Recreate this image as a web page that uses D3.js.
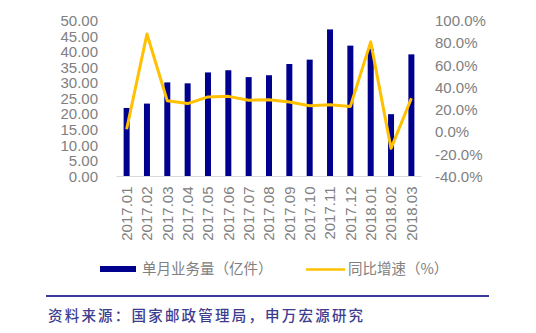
<!DOCTYPE html>
<html>
<head>
<meta charset="utf-8">
<script src="https://cdn.jsdelivr.net/npm/d3@7/dist/d3.min.js"></script>
<style>
  html, body { margin: 0; padding: 0; background: #fff; }
  svg { display: block; }
</style>
</head>
<body>
<script>
// Monthly express volume (100 million pieces) and year-on-year growth (%)
const months = ["2017.01","2017.02","2017.03","2017.04","2017.05","2017.06","2017.07","2017.08",
                "2017.09","2017.10","2017.11","2017.12","2018.01","2018.02","2018.03"];
const volume = [22.0, 23.4, 30.2, 29.9, 33.4, 34.1, 31.9, 32.5, 36.1, 37.5, 47.2, 42.0, 41.0, 20.0, 39.2];
const growth = [2.5, 88.0, 28.0, 25.5, 31.5, 32.0, 28.5, 29.0, 27.0, 23.5, 24.5, 23.0, 81.0, -14.7, 30.3];
const leftTicks = [0, 5, 10, 15, 20, 25, 30, 35, 40, 45, 50];
const rightTicks = [-40, -20, 0, 20, 40, 60, 80, 100];
const legendLabels = ["单月业务量（亿件）", "同比增速（%）"];
const sourceNote = "资料来源：国家邮政管理局，申万宏源研究";

const W = 536, H = 333;
const barColor = "#00008F", lineColor = "#FFC000", textColor = "#808080";
const font = "'Liberation Sans', Arial, sans-serif";
const cjk = "'Noto Sans CJK SC', sans-serif";

const svg = d3.select("body").append("svg").attr("width", W).attr("height", H);

const x = d3.scaleBand().domain(months).range([116.5, 421.5]).paddingInner(0.705).paddingOuter(0.35);
const yL = d3.scaleLinear().domain([0, 50]).range([176.5, 20.7]);
const yR = d3.scaleLinear().domain([-40, 100]).range([176.5, 20.7]);

// left axis
const axL = svg.append("g").attr("transform", "translate(98,0)")
  .call(d3.axisLeft(yL).tickValues(leftTicks).tickSize(0).tickPadding(0).tickFormat(d3.format(".2f")));
axL.select(".domain").remove();
axL.selectAll("text").attr("fill", textColor).style("font", `15px ${font}`);

// right axis
const axR = svg.append("g").attr("transform", "translate(435,0)")
  .call(d3.axisRight(yR).tickValues(rightTicks).tickSize(0).tickPadding(0).tickFormat(d => d.toFixed(1) + "%"));
axR.select(".domain").remove();
axR.selectAll("text").attr("fill", textColor).style("font", `15px ${font}`);

// bars
svg.append("g").selectAll("rect").data(volume).join("rect")
  .attr("x", (d, i) => x(months[i]))
  .attr("width", x.bandwidth())
  .attr("y", d => yL(d))
  .attr("height", d => yL(0) - yL(d))
  .attr("fill", barColor);

// baseline + category labels
const axB = svg.append("g").attr("transform", `translate(0,${yL(0)})`)
  .call(d3.axisBottom(x).tickSize(0).tickPadding(0).tickSizeOuter(0));
axB.select(".domain").attr("stroke", "#d9d9d9").attr("d", "M116.5,0H421.5");
axB.selectAll("text")
  .attr("fill", textColor).style("font", `15px ${font}`)
  .attr("text-anchor", "end").attr("dy", "0.35em")
  .attr("transform", "translate(0,10) rotate(-90)").attr("x", 0).attr("y", 0);

// growth line
const line = d3.line().x((d, i) => x(months[i]) + x.bandwidth() / 2).y(d => yR(d));
svg.append("path").datum(growth).attr("d", line)
  .attr("fill", "none").attr("stroke", lineColor).attr("stroke-width", 3).attr("stroke-linejoin", "round");

// legend
const lg = svg.append("g");
lg.append("rect").attr("x", 100).attr("y", 266).attr("width", 36).attr("height", 6).attr("fill", barColor);
lg.append("text").attr("x", 142).attr("y", 269).attr("dy", "0.35em")
  .attr("fill", textColor).style("font", `14.5px ${cjk}`).text(legendLabels[0]);
lg.append("line").attr("x1", 306).attr("x2", 345).attr("y1", 269.5).attr("y2", 269.5)
  .attr("stroke", lineColor).attr("stroke-width", 2.5);
lg.append("text").attr("x", 348).attr("y", 269).attr("dy", "0.35em")
  .attr("fill", textColor).style("font", `14.5px ${cjk}`).text(legendLabels[1]);

// source note
svg.append("line").attr("x1", 46).attr("x2", 489).attr("y1", 296).attr("y2", 296)
  .attr("stroke", "#3a3a9a").attr("stroke-width", 2);
svg.append("text").attr("x", 48).attr("y", 316).attr("dy", "0.35em")
  .attr("fill", "#3d3d8f").style("font", `500 14.5px ${cjk}`).style("letter-spacing", "2.2px")
  .text(sourceNote);
</script>
</body>
</html>
